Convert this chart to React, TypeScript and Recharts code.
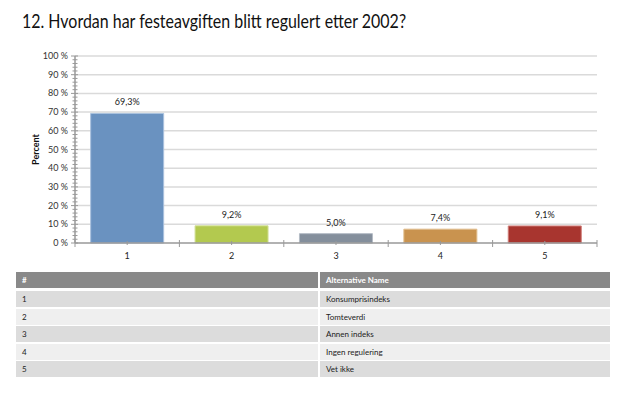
import React from 'react';
import {
  BarChart,
  Bar,
  CartesianGrid,
  XAxis,
  YAxis,
  Cell,
  LabelList,
} from 'recharts';

const categories = ['1', '2', '3', '4', '5'];
const percentValues = [69.3, 9.2, 5.0, 7.4, 9.1];
const alternativeNames = [
  'Konsumprisindeks',
  'Tomteverdi',
  'Annen indeks',
  'Ingen regulering',
  'Vet ikke',
];
const yTicks = [0, 2, 4, 6, 8, 10, 12, 14, 16, 18, 20, 22, 24, 26, 28, 30, 32, 34, 36, 38, 40, 42, 44, 46, 48, 50, 52, 54, 56, 58, 60, 62, 64, 66, 68, 70, 72, 74, 76, 78, 80, 82, 84, 86, 88, 90, 92, 94, 96, 98, 100];
const gridValues = [10, 20, 30, 40, 50, 60, 70, 80, 90, 100];

const COLORS = ['#6a92c0', '#b3c94f', '#848f9c', '#c9934f', '#a8352f'];
const STROKES = ['#a9c1dd', '#d3e09a', '#b4bcc5', '#e0bd8c', '#cf7c77'];

const FONT = 'Lato, "Open Sans", sans-serif';
const PLOT_LEFT = 75;
const PLOT_RIGHT = 597;
const BAND = (PLOT_RIGHT - PLOT_LEFT) / categories.length;

const chartData = categories.map((c, i) => ({
  name: c,
  value: percentValues[i],
}));

const YTick = (props: any) => {
  const { x, y, payload } = props;
  const major = payload.value % 10 === 0;
  return (
    <g>
      <line x1={x - (major ? 4 : 2.5)} x2={x + (major ? 3 : 2.5)} y1={y} y2={y} stroke="#999" strokeWidth={1} />
      {major && (
        <text x={x - 7} y={y + 3} textAnchor="end" fontSize={9} fill="#333" fontFamily={FONT}>
          {`${payload.value} %`}
        </text>
      )}
    </g>
  );
};

const XTick = (props: any) => {
  const { x, y, payload, index } = props;
  return (
    <g>
      <line x1={x} x2={x} y1={y - 2} y2={y + 2} stroke="#999" />
      <line x1={x + BAND / 2} x2={x + BAND / 2} y1={y - 3} y2={y + 4} stroke="#999" />
      {index === 0 && (
        <line x1={x - BAND / 2} x2={x - BAND / 2} y1={y - 3} y2={y + 4} stroke="#999" />
      )}
      <text x={x} y={y + 16} textAnchor="middle" fontSize={9} fill="#222" fontFamily={FONT}>
        {payload.value}
      </text>
    </g>
  );
};

export default function App() {
  return (
    <div
      style={{
        position: 'absolute',
        left: 0,
        top: 0,
        width: 620,
        height: 397,
        background: '#fff',
        fontFamily: FONT,
      }}
    >
      <div
        style={{
          position: 'absolute',
          left: 22,
          top: 9,
          fontSize: 19,
          color: '#111',
          whiteSpace: 'nowrap',
          transform: 'scaleX(0.84)',
          transformOrigin: 'left top',
        }}
      >
        12. Hvordan har festeavgiften blitt regulert etter 2002?
      </div>

      <div style={{ position: 'absolute', left: 0, top: 0 }}>
        <BarChart
          width={620}
          height={270}
          data={chartData}
          margin={{ top: 56, right: 620 - PLOT_RIGHT, left: 0, bottom: 7 }}
          barCategoryGap="15%"
        >
          <CartesianGrid
            vertical={false}
            horizontalValues={gridValues}
            stroke="#dadada"
            strokeWidth={1.5}
          />
          <XAxis
            dataKey="name"
            height={20}
            axisLine={{ stroke: '#999', strokeWidth: 1.5 }}
            tickLine={false}
            tickSize={0}
            tickMargin={0}
            tick={<XTick />}
            interval={0}
          />
          <YAxis
            width={PLOT_LEFT}
            domain={[0, 100]}
            ticks={yTicks}
            interval={0}
            tickSize={0}
            tickMargin={0}
            axisLine={{ stroke: '#999', strokeWidth: 1.5 }}
            tickLine={false}
            tick={<YTick />}
            label={{
              value: 'Percent',
              angle: -90,
              position: 'insideLeft',
              offset: 36,
              style: { fontSize: 9, fontWeight: 700, fill: '#111', fontFamily: FONT, textAnchor: 'middle' },
            }}
          />
          <Bar dataKey="value" isAnimationActive={false}>
            {chartData.map((_, i) => (
              <Cell key={`c-${i}`} fill={COLORS[i]} stroke={STROKES[i]} strokeWidth={1} />
            ))}
            <LabelList
              dataKey="value"
              position="top"
              offset={8}
              formatter={(v: any) => `${Number(v).toFixed(1).replace('.', ',')}%`}
              style={{ fontSize: 9, fill: '#222', fontFamily: FONT }}
            />
          </Bar>
        </BarChart>
      </div>

      <div style={{ position: 'absolute', left: 16, top: 272, width: 594, fontSize: 8, color: '#222' }}>
        <div style={{ display: 'flex', height: 16, marginBottom: 3 }}>
          <div style={{ width: 296, background: '#898989', color: '#fff', fontWeight: 700, paddingLeft: 6, lineHeight: '16px' }}>#</div>
          <div style={{ width: 2 }} />
          <div style={{ flex: 1, background: '#898989', color: '#fff', fontWeight: 700, paddingLeft: 6, lineHeight: '16px' }}>
            Alternative Name
          </div>
        </div>
        {alternativeNames.map((name, i) => {
          const bg = i % 2 === 0 ? '#dcdcdc' : '#efefef';
          return (
            <div key={name} style={{ display: 'flex', height: 16, marginBottom: 1.6 }}>
              <div style={{ width: 296, background: bg, paddingLeft: 6, lineHeight: '16px' }}>{categories[i]}</div>
              <div style={{ width: 2 }} />
              <div style={{ flex: 1, background: bg, paddingLeft: 6, lineHeight: '16px' }}>{name}</div>
            </div>
          );
        })}
      </div>
    </div>
  );
}
